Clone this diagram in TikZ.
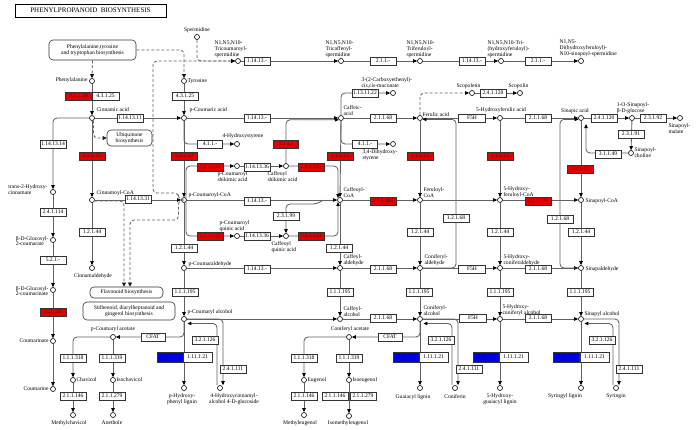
\documentclass[tikz,border=0pt]{standalone}
\usepackage{fontspec}
\setmainfont{Liberation Serif}
\usetikzlibrary{arrows.meta,calc}
\begin{document}
\begin{tikzpicture}[x=1pt,y=-1pt,
  every node/.style={font=\fontsize{5.6}{5.6}\selectfont},
  cpd/.style={circle,draw=black,fill=white,line width=0.6pt,minimum size=5pt,inner sep=0pt},
  ec/.style={draw=black!80,fill=white,line width=0.6pt,minimum width=26pt,minimum height=8pt,inner sep=0.4pt},
  ecr/.style={ec,fill={rgb,255:red,228;green,0;blue,0},text={rgb,255:red,95;green,0;blue,0}},
  ecb/.style={ec,fill={rgb,255:red,0;green,0;blue,228},text={rgb,255:red,0;green,0;blue,95},minimum height=10pt},
  ecw/.style={ec,minimum width=29pt,minimum height=10pt},
  lbl/.style={inner sep=0.3pt,align=left,font=\fontsize{5.6}{5.9}\selectfont},
  lblc/.style={lbl,align=center},
  mapbox/.style={draw=black!80,rounded corners=4pt,fill=white,line width=0.6pt,align=center,inner sep=1pt,font=\fontsize{5.6}{6}\selectfont},
  ln/.style={draw=black!62,line width=0.85pt,rounded corners=4pt},
  ar/.style={ln,-{Triangle[length=4pt,width=3.4pt,color=black]}},
  dl/.style={draw=black!62,line width=0.85pt,rounded corners=4pt,dash pattern=on 3pt off 2pt},
  dar/.style={dl,-{Triangle[open,length=4pt,width=3.8pt,color=black,fill=white]}},
  dfar/.style={dl,-{Triangle[length=4pt,width=3.4pt,color=black]}},
]
\useasboundingbox (0,0) rectangle (696,429);
\fill[white] (0,0) rectangle (696,429);

% ---------- title and map boxes ----------
\node[draw=black,line width=0.8pt,minimum width=151pt,minimum height=13pt,inner sep=0pt,font=\fontsize{7}{7}\selectfont] (title) at (90.5,10.5) {PHENYLPROPANOID\ \ BIOSYNTHESIS};
\node[mapbox,minimum width=87pt,minimum height=20pt] (phebox) at (92.5,50) {Phenylalanine,tyrosine\\and tryptophan biosynthesis};
\node[mapbox,minimum width=45pt,minimum height=16pt] (ubiq) at (129.5,138) {Ubiquinone\\biosynthesis};
\node[mapbox,minimum width=73pt,minimum height=11pt] (flav) at (126.5,292.5) {Flavonoid biosynthesis};
\node[mapbox,minimum width=92pt,minimum height=18pt] (stil) at (129,311) {Stilbenoid, diarylheptanoid and\\gingerol biosynthesis};
\coordinate (flavL) at ($(flav.north)+(-2.5,0)$);
\coordinate (flavR) at ($(flav.north)+(3.5,0)$);

% ---------- compounds ----------
\node[cpd] (phe) at (92,81) {};
\node[cpd] (tyr) at (184,81) {};
\node[cpd] (cin) at (92,118) {};
\node[cpd] (pcou) at (184,118) {};
\node[cpd] (caf) at (341,118) {};
\node[cpd] (fer) at (420,118) {};
\node[cpd] (hfer) at (500,118) {};
\node[cpd] (sin) at (581,118) {};
\node[cpd] (sglc) at (632,118) {};
\node[cpd] (smal) at (680,118) {};
\node[cpd] (schol) at (631,153) {};
\node[cpd] (sperm) at (197,37) {};
\node[cpd] (tcs) at (238,61) {};
\node[cpd] (tcfs) at (341,61) {};
\node[cpd] (tfs) at (420,61) {};
\node[cpd] (thfs) at (501,61) {};
\node[cpd] (dhs) at (581,61) {};
\node[cpd] (muc) at (393,93) {};
\node[cpd] (scop) at (472,93) {};
\node[cpd] (scopl) at (520,93) {};
\node[cpd] (hsty) at (237,144) {};
\node[cpd] (dhsty) at (393,144) {};
\node[cpd] (pcs) at (237,166) {};
\node[cpd] (cfs) at (286,166) {};
\node[cpd] (t2h) at (53,192) {};
\node[cpd] (cinco) at (92,200) {};
\node[cpd] (pcco) at (184,200) {};
\node[cpd] (cfco) at (340,200) {};
\node[cpd] (ferco) at (420,200) {};
\node[cpd] (hferco) at (500,200) {};
\node[cpd] (sinco) at (581,200) {};
\node[cpd] (pcq) at (237,236) {};
\node[cpd] (cfq) at (286,236) {};
\node[cpd] (glc) at (53,240) {};
\node[cpd] (cinald) at (92,268) {};
\node[cpd] (pcald) at (184,268) {};
\node[cpd] (cfald) at (340,268) {};
\node[cpd] (conald) at (420,268) {};
\node[cpd] (hconald) at (500,268) {};
\node[cpd] (sinald) at (581,268) {};
\node[cpd] (glcm) at (53,290) {};
\node[cpd] (pcalc) at (184,319) {};
\node[cpd] (cfalc) at (340,319) {};
\node[cpd] (conalc) at (420,319) {};
\node[cpd] (hconalc) at (500,319) {};
\node[cpd] (sinalc) at (581,319) {};
\node[cpd] (pcac) at (113,337) {};
\node[cpd] (conac) at (349,337) {};
\node[cpd] (coum) at (53,341) {};
\node[cpd] (chav) at (73,380) {};
\node[cpd] (isoch) at (113,380) {};
\node[cpd] (eug) at (304,380) {};
\node[cpd] (isoeug) at (349,380) {};
\node[cpd] (coumarine) at (53,389) {};
\node[cpd] (phl) at (184,388) {};
\node[cpd] (hcg) at (220,388) {};
\node[cpd] (gl) at (420,388) {};
\node[cpd] (conif) at (455,388) {};
\node[cpd] (hgl) at (500,388) {};
\node[cpd] (sl) at (581,388) {};
\node[cpd] (syr) at (616,388) {};
\node[cpd] (mchav) at (73,415) {};
\node[cpd] (anet) at (113,415) {};
\node[cpd] (meug) at (304,415) {};
\node[cpd] (imeug) at (349,416) {};

\coordinate (pcw) at (178.5,200);
\coordinate (b68a) at (456,200);
\coordinate (b68b) at (560,200);
\coordinate (sinR) at (586,124);
\coordinate (pcin) at ($(pcalc.south east)+(1.5,2.5)$);
\coordinate (conin) at ($(conalc.south east)+(1.5,2.5)$);
\coordinate (sinin) at ($(sinalc.south east)+(1.5,2.5)$);
\coordinate (hcgo) at ($(hcg.north)+(3,0)$);
\coordinate (hcgi) at ($(hcg.north)+(-3,0)$);
\coordinate (conifo) at ($(conif.north)+(3,0)$);
\coordinate (conifi) at ($(conif.north)+(-3,0)$);
\coordinate (syro) at ($(syr.north)+(3,0)$);
\coordinate (syri) at ($(syr.north)+(-3,0)$);
\coordinate (j99) at ($(cfco.west)+(-14,0)$);

% ---------- connectors ----------
\draw[dar] (phebox.south) -- (phe.north);
\draw[dar] (phebox.east) -| (tyr.north);
\draw[ar] (phe) -- (cin);
\draw[ar] (tyr) -- (pcou);
\draw[ar] (cin) -- (pcou);
\draw[ar] (cin) -| (t2h);
\draw[dar] (cin.-60) |- (ubiq.west);
\draw[ar] (cin) -- (cinco);
\draw[ar] (cinco) -- (cinald);
\draw[ar] (cinco) -- (pcco);
\draw[dar] (cinco.-20) -| (flavL);
\draw[ar] (t2h) -- (glc);
\draw[ar] (glc) -- (glcm);
\draw[ar] (glcm) -- (coum);
\draw[ar] (coum) -- (coumarine);

\draw[dfar] (sperm.south) |- (tcs.west);
\draw[dfar] (pcco.west) -- (pcw) |- (153,193) |- (tcs.west);
\draw[dar] (pcco.west) -- (pcw) |- (130,220) -- (flavR);
\draw[ar] (tcs) -- (tcfs);
\draw[ar] (tcfs) -- (tfs);
\draw[ar] (tfs) -- (thfs);
\draw[ar] (thfs) -- (dhs);

\draw[ar] (pcou) -- (pcco);
\draw[ar] (pcou.south) |- (hsty);
\draw[ar] (pcou) -- (caf);
\draw[ar] (pcco.north east) |- (pcs);
\draw[ar] (pcs) -- (cfs);
\draw[ar] (cfs) -| (cfco.135);
\draw[ar] (cfs.north) |- (caf.-140);
\draw[ar] (pcco) -- (cfco);
\draw[ar] (pcco.south east) |- (pcq);
\draw[ar] (pcq) -- (cfq);
\draw[ar] (cfq) -| (cfco.-135);
\draw[ar] (j99) -- ++(-6,4) -| (cfq.north);
\draw[ar] (pcco) -- (pcald);
\draw[ar] (pcald) -- (cfald);
\draw[ar] (cfco) -- (cfald);
\draw[ar] (caf) -- (cfco);
\draw[ar] (caf.north) |- (muc);
\draw[ar] (caf.south) |- (dhsty);
\draw[ar] (caf) -- (fer);
\draw[ar] (fer) -- (hfer);
\draw[dfar] (fer.north) |- (scop);
\draw[ar] (scop) -- (scopl);
\draw[ar] (hfer) -- (sin);
\draw[ar] (sin) -- (sglc);
\draw[ar] (sglc) -- (smal);
\draw[ar] (sglc) -- (schol);
\draw[ar] (schol.west) -| (sinR);
\draw[ar] (fer) -- (ferco);
\draw[ar] (hfer) -- (hferco);
\draw[ar] (sin) -- (sinco);
\draw[ar] (cfco) -- (ferco);
\draw[ar] (ferco) -- (hferco);
\draw[ar] (hferco) -- (sinco);
\draw[ar] (ferco) -- (conald);
\draw[ar] (hferco) -- (hconald);
\draw[ar] (sinco) -- (sinald);
\draw[ar] (cfald) -- (conald);
\draw[ar] (conald) -- (hconald);
\draw[ar] (hconald) -- (sinald);
\draw[ar] (conald.east) -| (b68a) |- (fer.-30);
\draw[ar] (sinald.west) -| (b68b) |- (sin.-150);

\draw[ar] (cfald) -- (cfalc);
\draw[ar] (pcald) -- (pcalc);
\draw[ar] (conald) -- (conalc);
\draw[ar] (hconald) -- (hconalc);
\draw[ar] (sinald) -- (sinalc);
\draw[ar] (pcalc) -- (cfalc);
\draw[ar] (cfalc) -- (conalc);
\draw[ar] (conalc) -- (hconalc);
\draw[ar] (hconalc) -- (sinalc);
\draw[ar] (pcalc) -- (phl);
\draw[ar] (conalc) -- (gl);
\draw[ar] (hconalc) -- (hgl);
\draw[ar] (sinalc) -- (sl);
\draw[ar] (pcalc.east) -| (hcgo);
\draw[ar] (hcgi) |- (pcin);
\draw[ar] (conalc.east) -| (conifo);
\draw[ar] (conifi) |- (conin);
\draw[ar] (sinalc.east) -| (syro);
\draw[ar] (syri) |- (sinin);
\draw[ar] (pcalc.south) |- (pcac.east);
\draw[ar] (conalc.south) |- (conac.east);
\draw[ar] (pcac) -| (chav);
\draw[ar] (pcac) -- (isoch);
\draw[ar] (chav) -- (mchav);
\draw[ar] (isoch) -- (anet);
\draw[ar] (conac) -| (eug);
\draw[ar] (conac) -- (isoeug);
\draw[ar] (eug) -- (meug);
\draw[ar] (isoeug) -- (imeug);

% ---------- enzymes ----------
\node[ecr,minimum width=27pt] (e1) at (78.5,96) {4.3.1.24};
\node[ec,minimum width=27pt] (e2) at (105.5,96) {4.3.1.25};
\node[ec] (e3) at (185,96) {4.3.1.25};
\node[ec] (e4) at (130,118) {1.14.13.11};
\node[ec] (e5) at (53,144) {1.14.13.14};
\node[ecr] (e6) at (92,156) {6.2.1.12};
\node[ecr] (e7) at (184,156) {6.2.1.12};
\node[ecr] (e8) at (340,156) {6.2.1.12};
\node[ecr] (e9) at (420,156) {6.2.1.12};
\node[ecr] (e10) at (500,156) {6.2.1.12};
\node[ecr] (e11) at (580,169) {6.2.1.12};
\node[ec,minimum width=25pt] (e12) at (210,144) {4.1.1.-};
\node[ec,minimum width=25pt] (e13) at (365,144) {4.1.1.-};
\node[ecr,minimum width=25pt] (e14) at (286,144) {3.1.1.-};
\node[ec] (e15) at (257,118) {1.14.13.-};
\node[ec] (e16) at (365,93) {1.13.11.22};
\node[ec] (e17) at (383,118) {2.1.1.68};
\node[ec,minimum width=27pt] (e18) at (472,118) {F5H};
\node[ec] (e19) at (538,118) {2.1.1.68};
\node[ec] (e20) at (604,118) {2.4.1.120};
\node[ec] (e21) at (653,118) {2.3.1.92};
\node[ec] (e22) at (631,134) {2.3.1.91};
\node[ec] (e23) at (608,154) {3.1.1.49};
\node[ec] (e24) at (493,93) {2.4.1.128};
\node[ec] (e25) at (257,61) {1.14.13.-};
\node[ec] (e26) at (383,61) {2.1.1.-};
\node[ec] (e27) at (472,61) {1.14.13.-};
\node[ec] (e28) at (538,61) {2.1.1.-};
\node[ecr] (e29) at (210,167) {2.3.1.133};
\node[ecr] (e30) at (311,167) {2.3.1.133};
\node[ecr] (e31) at (210,236) {2.3.1.133};
\node[ecr] (e32) at (311,236) {2.3.1.133};
\node[ec] (e33) at (257,167) {1.14.13.36};
\node[ec] (e34) at (257,236) {1.14.13.36};
\node[ec] (e35) at (138,199) {1.14.13.31};
\node[ec] (e36) at (257,201) {1.14.13.-};
\node[ec] (e37) at (286,216) {2.3.1.99};
\node[ecr] (e38) at (383,201) {2.1.1.104};
\node[ecr] (e39) at (538,201) {2.1.1.104};
\node[ec] (e40) at (456,218) {1.2.1.68};
\node[ec] (e41) at (560,219) {1.2.1.68};
\node[ec] (e42) at (53,212) {2.4.1.114};
\node[ec] (e43) at (53,260) {5.2.1.-};
\node[ecr] (e44) at (53,312) {3.2.1.21};
\node[ec] (e45) at (92,232) {1.2.1.44};
\node[ec] (e46) at (184,248) {1.2.1.44};
\node[ec] (e47) at (339,248) {1.2.1.44};
\node[ec] (e48) at (420,232) {1.2.1.44};
\node[ec] (e49) at (500,232) {1.2.1.44};
\node[ec] (e50) at (581,232) {1.2.1.44};
\node[ec] (e51) at (257,269) {1.14.13.-};
\node[ec] (e52) at (383,269) {2.1.1.68};
\node[ec,minimum width=27pt] (e53) at (472,269) {F5H};
\node[ec] (e54) at (538,269) {2.1.1.68};
\node[ec] (e55) at (185,292) {1.1.1.195};
\node[ec] (e56) at (340,292) {1.1.1.195};
\node[ec] (e57) at (419,292) {1.1.1.195};
\node[ec] (e58) at (500,292) {1.1.1.195};
\node[ec] (e59) at (580,292) {1.1.1.195};
\node[ec] (e60) at (383,318) {2.1.1.68};
\node[ec,minimum width=27pt] (e61) at (473,318) {F5H};
\node[ec] (e62) at (538,318) {2.1.1.68};
\node[ec,minimum width=24pt] (e63) at (153,337) {CFAT};
\node[ec,minimum width=24pt] (e64) at (390,337) {CFAT};
\node[ec] (e65) at (73,358) {1.1.1.318};
\node[ec] (e66) at (304,358) {1.1.1.318};
\node[ec] (e67) at (112,358) {1.1.1.319};
\node[ec] (e68) at (349,358) {1.1.1.319};
\node[ec] (e69) at (73,396) {2.1.1.146};
\node[ec] (e70) at (304,396) {2.1.1.146};
\node[ec] (e71) at (335,396) {2.1.1.146};
\node[ec] (e72) at (112,396) {2.1.1.279};
\node[ec] (e73) at (363,396) {2.1.1.279};
\node[ecb] (e74) at (170,357) {1.11.1.7};
\node[ecw] (e75) at (197.5,357) {1.11.1.21};
\node[ecb] (e76) at (406,357) {1.11.1.7};
\node[ecw] (e77) at (433.5,357) {1.11.1.21};
\node[ecb] (e78) at (486,357) {1.11.1.7};
\node[ecw] (e79) at (513.5,357) {1.11.1.21};
\node[ecb] (e80) at (566,357) {1.11.1.7};
\node[ecw] (e81) at (594.5,357) {1.11.1.21};
\node[ec] (e82) at (205,340) {3.2.1.126};
\node[ec] (e83) at (441,340) {3.2.1.126};
\node[ec] (e84) at (602,340) {3.2.1.126};
\node[ec] (e85) at (233,369) {2.4.1.111};
\node[ec] (e86) at (469,369) {2.4.1.111};
\node[ec] (e87) at (629,369) {2.4.1.111};

% ---------- compound labels ----------
\node[lbl,anchor=east] (l1) at (88,80) {Phenylalanine};
\node[lbl,anchor=west] (l2) at (187,81) {Tyrosine};
\node[lbl,anchor=west] (l3) at (96,110) {Cinnamic acid};
\node[lbl,anchor=west] (l4) at (189,110) {p-Coumaric acid};
\node[lbl,anchor=south west] (l5) at (343,116) {Caffeic-\\acid};
\node[lbl,anchor=south west] (l6) at (422,117) {Ferulic acid};
\node[lbl,anchor=south] (l7) at (501,113) {5-Hydroxyferulic acid};
\node[lbl,anchor=south] (l8) at (575,114) {Sinapic acid};
\node[lbl,anchor=south] (l9) at (633,114) {1-O-Sinapoyl-\\β-D-glucose};
\node[lbl,anchor=north west] (l10) at (668,123) {Sinapoyl-\\malate};
\node[lbl,anchor=west] (l11) at (634,153) {Sinapoyl-\\choline};
\node[lbl,anchor=south] (l12) at (197,33) {Spermidine};
\node[lbl,anchor=south west] (l13) at (214,58) {N1,N5,N10-\\Tricoumaroyl-\\spermidine};
\node[lbl,anchor=south west] (l14) at (325,58) {N1,N5,N10-\\Tricaffeoyl-\\spermidine};
\node[lbl,anchor=south west] (l15) at (406,58) {N1,N5,N10-\\Triferuloyl-\\spermidine};
\node[lbl,anchor=south west] (l16) at (487,58) {N1,N5,N10-Tri-\\(hydroxyferuloyl)-\\spermidine};
\node[lbl,anchor=south west] (l17) at (559,57) {N1,N5-\\Di(hydroxyferuloyl)-\\N10-sinapoyl-spermidine};
\node[lbl,anchor=south west] (l18) at (361,89) {3-(2-Carboxyethenyl)-\\cis,cis-muconate};
\node[lbl,anchor=south west] (l19) at (456,89) {Scopoletin};
\node[lbl,anchor=south west] (l20) at (508,89) {Scopolin};
\node[lbl,anchor=south west] (l21) at (222,139) {4-Hydroxystyrene};
\node[lbl,anchor=north west] (l22) at (362,149.5) {3,4-Dihydroxy-\\styrene};
\node[lbl,anchor=north west] (l23) at (217,171) {p-Coumaroyl\\shikimic acid};
\node[lbl,anchor=north west] (l24) at (267,171) {Caffeoyl\\shikimic acid};
\node[lbl,anchor=east] (l25) at (48,190) {trans-2-Hydroxy-\\cinnamate};
\node[lbl,anchor=south west] (l26) at (96,196) {Cinnamoyl-CoA};
\node[lbl,anchor=west] (l27) at (188,195) {p-Coumaroyl-CoA};
\node[lbl,anchor=south west] (l28) at (343,198) {Caffeoyl-\\CoA};
\node[lbl,anchor=south west] (l29) at (423,198) {Feruloyl-\\CoA};
\node[lbl,anchor=south west] (l30) at (503,198) {5-Hydroxy-\\feruloyl-CoA};
\node[lbl,anchor=west] (l31) at (585,201) {Sinapoyl-CoA};
\node[lbl,anchor=south west] (l32) at (219,232) {p-Coumaroyl\\quinic acid};
\node[lbl,anchor=north west] (l33) at (271,241) {Caffeoyl\\quinic acid};
\node[lbl,anchor=east] (l34) at (49,241) {β-D-Glucosyl-\\2-coumarate};
\node[lbl,anchor=north] (l35) at (93,273) {Cinnamaldehyde};
\node[lbl,anchor=west] (l36) at (188,264) {p-Coumaraldehyde};
\node[lbl,anchor=south west] (l37) at (343,266) {Caffeyl-\\aldehyde};
\node[lbl,anchor=south west] (l38) at (424,266) {Coniferyl-\\aldehyde};
\node[lbl,anchor=south west] (l39) at (503,266) {5-Hydroxy-\\coniferaldehyde};
\node[lbl,anchor=west] (l40) at (585,269) {Sinapaldehyde};
\node[lbl,anchor=east] (l41) at (49,291) {β-D-Glucosyl-\\2-coumarinate};
\node[lbl,anchor=east] (l42) at (49,341) {Coumarinate};
\node[lbl,anchor=east] (l43) at (49,389) {Coumarine};
\node[lbl,anchor=south] (l44) at (113,332) {p-Coumaryl acetate};
\node[lbl,anchor=west] (l45) at (76,380) {Chavicol};
\node[lbl,anchor=west] (l46) at (116,380) {Isochavicol};
\node[lbl,anchor=north] (l47) at (69,420) {Methylchavicol};
\node[lbl,anchor=north] (l48) at (112,420) {Anethole};
\node[lbl,anchor=west] (l49) at (187,312) {p-Coumaryl alcohol};
\node[lblc,anchor=north] (l50) at (182,393) {p-Hydroxy-\\phenyl lignin};
\node[lblc,anchor=north] (l51) at (234,393) {4-Hydroxycinnamyl-\\alcohol 4-D-glucoside};
\node[lbl,anchor=south west] (l52) at (343,317) {Caffeyl-\\alcohol};
\node[lbl,anchor=south west] (l53) at (423,316) {Coniferyl-\\alcohol};
\node[lbl,anchor=south west] (l54) at (502,316) {5-Hydroxy-\\coniferyl alcohol};
\node[lbl,anchor=south west] (l55) at (584,317) {Sinapyl alcohol};
\node[lbl,anchor=south] (l56) at (350,332) {Coniferyl acetate};
\node[lbl,anchor=west] (l57) at (307,380) {Eugenol};
\node[lbl,anchor=west] (l58) at (352,380) {Isoeugenol};
\node[lbl,anchor=north] (l59) at (300,420) {Methyleugenol};
\node[lbl,anchor=north] (l60) at (348,420) {Isomethyleugenol};
\node[lbl,anchor=north] (l61) at (413,394) {Guaiacyl lignin};
\node[lbl,anchor=north] (l62) at (455,394) {Coniferin};
\node[lblc,anchor=north] (l63) at (500,393) {5-Hydroxy-\\guaiacyl lignin};
\node[lbl,anchor=north] (l64) at (565,393) {Syringyl lignin};
\node[lbl,anchor=north] (l65) at (616,393) {Syringin};
\end{tikzpicture}
\end{document}
